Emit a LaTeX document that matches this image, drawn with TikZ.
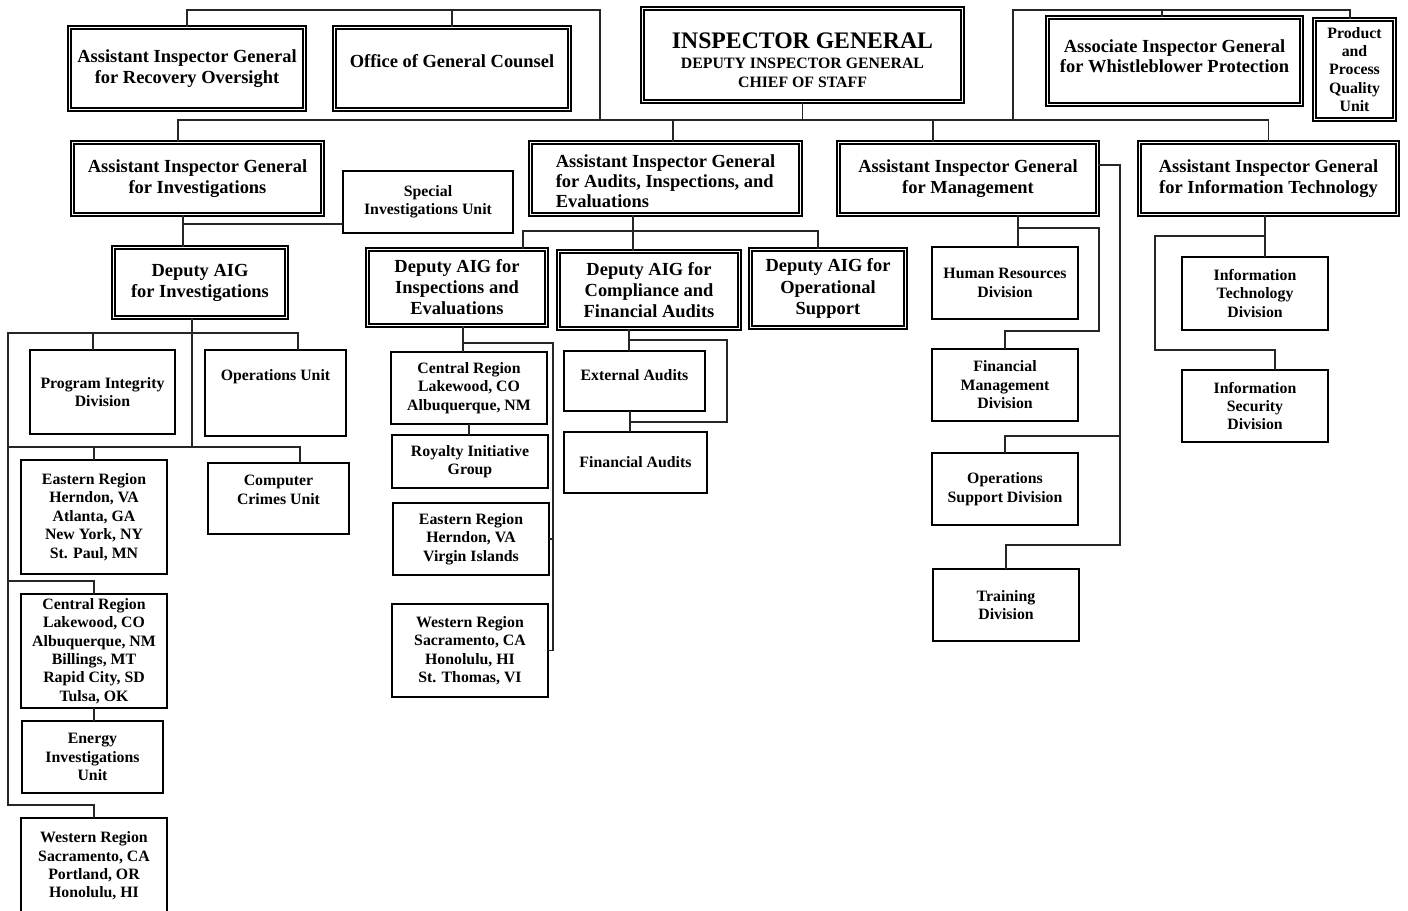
\documentclass[tikz,border=0pt]{standalone}
\usepackage{fontspec}
\setmainfont{Liberation Serif}
\usetikzlibrary{positioning}

\tikzset{
  chief/.style={draw, double, line width=1.1pt, double distance=1pt, align=center,
    font=\bfseries\fontsize{10.5}{12}\selectfont},
  unit/.style={draw, line width=0.7pt, align=center, inner sep=1pt,
    font=\bfseries\fontsize{9}{10.5}\selectfont},
  link/.style={line width=0.6pt, black!85},
}

\begin{document}
\begin{tikzpicture}[x=0.02cm, y=-0.02cm, line cap=rect]
  \useasboundingbox (0,0) rectangle (1408,910);

  \node[chief, minimum width=4.7cm, minimum height=1.64cm] (recov) at (187,68.5) {Assistant Inspector General\\for Recovery Oversight};
  \node[chief, minimum width=4.7cm, minimum height=1.64cm, text depth=8pt] (ogc) at (452,68.5) {Office of General Counsel};
  \node[chief, minimum width=6.4cm, minimum height=1.86cm, font=\bfseries\fontsize{9}{10.5}\selectfont] (ig) at (802.5,55)
    {{\fontsize{13.5}{14}\selectfont\rule{0pt}{15pt}INSPECTOR GENERAL}\\[1pt]DEPUTY INSPECTOR GENERAL\\CHIEF OF STAFF};
  \node[chief, minimum width=5.08cm, minimum height=1.74cm, text depth=6pt, font=\bfseries\fontsize{10.5}{11.5}\selectfont] (whistle) at (1174.5,61) {Associate Inspector General\\for Whistleblower Protection};
  \node[chief, minimum width=1.6cm, minimum height=2.0cm, inner sep=1pt, font=\bfseries\fontsize{9}{10.5}\selectfont] (ppqu) at (1354.5,69.5) {Product\\and\\Process\\Quality\\Unit};

  \node[chief, minimum width=5.0cm, minimum height=1.44cm] (aiginv) at (197.5,178.5) {Assistant Inspector General\\for Investigations};
  \node[chief, minimum width=5.4cm, minimum height=1.44cm, align=left, font=\bfseries\fontsize{10.5}{11.3}\selectfont] (aigaud) at (665.5,178.5) {\rule{0pt}{10pt}Assistant Inspector General\\for Audits, Inspections, and\\Evaluations};
  \node[chief, minimum width=5.18cm, minimum height=1.44cm] (aigmgmt) at (968,178.5) {Assistant Inspector General\\for Management};
  \node[chief, minimum width=5.16cm, minimum height=1.44cm] (aigit) at (1268.5,178.5) {Assistant Inspector General\\for Information Technology};
  \node[unit, minimum width=3.4cm, minimum height=1.24cm] (siu) at (428,202) {Special\\Investigations Unit};

  \node[chief, minimum width=3.46cm, minimum height=1.4cm] (depinv) at (200,282.5) {Deputy AIG\\for Investigations};
  \node[chief, minimum width=3.58cm, minimum height=1.52cm] (depie) at (457,287.5) {Deputy AIG for\\Inspections and\\Evaluations};
  \node[chief, minimum width=3.62cm, minimum height=1.54cm] (depcfa) at (649,290) {Deputy AIG for\\Compliance and\\Financial Audits};
  \node[chief, minimum width=3.1cm, minimum height=1.56cm] (depos) at (828,288.5) {Deputy AIG for\\Operational\\Support};

  \node[unit, minimum width=2.9cm, minimum height=1.68cm] (pid) at (102.5,392) {Program Integrity\\Division};
  \node[unit, minimum width=2.82cm, minimum height=1.72cm, text depth=21pt] (opsu) at (275.5,393) {Operations Unit};
  \node[unit, minimum width=2.92cm, minimum height=2.28cm] (eastinv) at (94,517) {Eastern Region\\Herndon, VA\\Atlanta, GA\\New York, NY\\St. Paul, MN};
  \node[unit, minimum width=2.82cm, minimum height=1.42cm, text depth=10pt] (ccu) at (278.5,498.5) {Computer\\Crimes Unit};
  \node[unit, minimum width=2.92cm, minimum height=2.28cm] (centinv) at (94,651) {Central Region\\Lakewood, CO\\Albuquerque, NM\\Billings, MT\\Rapid City, SD\\Tulsa, OK};
  \node[unit, minimum width=2.82cm, minimum height=1.44cm] (energy) at (92.5,757) {Energy\\Investigations\\Unit};
  \node[unit, minimum width=2.92cm, minimum height=1.92cm] (westinv) at (94,866) {Western Region\\Sacramento, CA\\Portland, OR\\Honolulu, HI};

  \node[unit, minimum width=3.12cm, minimum height=1.44cm] (centie) at (469,388) {Central Region\\Lakewood, CO\\Albuquerque, NM};
  \node[unit, minimum width=3.12cm, minimum height=1.06cm] (royalty) at (470,461.5) {Royalty Initiative\\Group};
  \node[unit, minimum width=3.12cm, minimum height=1.44cm] (eastie) at (471,539) {Eastern Region\\Herndon, VA\\Virgin Islands};
  \node[unit, minimum width=3.12cm, minimum height=1.86cm] (westie) at (470,650.5) {Western Region\\Sacramento, CA\\Honolulu, HI\\St. Thomas, VI};

  \node[unit, minimum width=2.82cm, minimum height=1.2cm, text depth=7pt] (ext) at (634.5,381) {External Audits};
  \node[unit, minimum width=2.86cm, minimum height=1.22cm] (fin) at (635.5,462.5) {Financial Audits};

  \node[unit, minimum width=2.92cm, minimum height=1.44cm] (hr) at (1005,283) {Human Resources\\Division};
  \node[unit, minimum width=2.92cm, minimum height=1.44cm] (fmd) at (1005,385) {Financial\\Management\\Division};
  \node[unit, minimum width=2.92cm, minimum height=1.44cm] (osd) at (1005,489) {Operations\\Support Division};
  \node[unit, minimum width=2.92cm, minimum height=1.44cm] (train) at (1006,605) {Training\\Division};

  \node[unit, minimum width=2.92cm, minimum height=1.46cm] (itd) at (1255,293.5) {Information\\Technology\\Division};
  \node[unit, minimum width=2.92cm, minimum height=1.44cm] (isd) at (1255,406) {Information\\Security\\Division};

  \coordinate (topL) at (600,10);
  \coordinate (topR) at (1013,10);
  \coordinate (dWb) at (1162,10);
  \coordinate (dPq) at (1350,10);
  \coordinate (bus) at (0,120);
  \draw[link] (recov.north) |- (topL) -- (topL |- bus);
  \draw[link] (ogc.north) -- (ogc.north |- topL);
  \draw[link] (ig.south) -- (ig.south |- bus);
  \draw[link] (dPq |- ppqu.north) -- (dPq) -- (topR) -- (topR |- bus);
  \draw[link] (dWb) -- (dWb |- whistle.north);

  \coordinate (dInv) at (178,120);
  \coordinate (dAud) at (673,120);
  \coordinate (dMgt) at (933,120);
  \draw[link] (dInv) -- (aigit.north |- bus) -- (aigit.north);
  \draw[link] (dInv) -- (dInv |- aiginv.north);
  \draw[link] (dAud) -- (dAud |- aigaud.north);
  \draw[link] (dMgt) -- (dMgt |- aigmgmt.north);

  \coordinate (jInv) at (183,224);
  \draw[link] (jInv |- aiginv.south) -- (jInv |- depinv.north);
  \draw[link] (jInv) -- (jInv -| siu.west);

  \coordinate (jDep) at (192,333);
  \coordinate (railT) at (8,333);
  \coordinate (railB) at (8,805);
  \coordinate (rowE) at (8,447);
  \coordinate (rowC) at (8,581);
  \coordinate (dPid) at (93,333);
  \coordinate (dOps) at (298,333);
  \coordinate (dCcu) at (300,447);
  \draw[link] (jDep |- depinv.south) -- (jDep |- rowE);
  \draw[link] (railB) -- (railT) -- (dOps) -- (dOps |- opsu.north);
  \draw[link] (dPid) -- (dPid |- pid.north);
  \draw[link] (rowE) -- (dCcu) -- (dCcu |- ccu.north);
  \draw[link] (eastinv.north |- rowE) -- (eastinv.north);
  \draw[link] (rowC) -| (centinv.north);
  \draw[link] (railB) -| (westinv.north);
  \draw[link] (centinv.south) -- (centinv.south |- energy.north);

  \coordinate (jAud) at (633,231);
  \coordinate (jAudL) at (523,231);
  \coordinate (jAudR) at (818,231);
  \draw[link] (jAud |- aigaud.south) -- (jAud);
  \draw[link] (jAudL |- depie.north) -- (jAudL) -- (jAudR) -- (jAudR |- depos.north);
  \draw[link] (jAud) -- (jAud |- depcfa.north);

  \coordinate (jIE) at (463,343);
  \coordinate (railIE) at (553,343);
  \draw[link] (jIE |- depie.south) -- (jIE |- centie.north);
  \draw[link] (jIE) -- (railIE) -- (railIE |- westie.east) -- (westie.east);
  \draw[link] (eastie.east) -- (eastie.east -| railIE);
  \draw[link] (centie.south) -- (centie.south |- royalty.north);

  \coordinate (jCF) at (629,340);
  \coordinate (railCF) at (727,340);
  \coordinate (jCF2) at (630,422);
  \draw[link] (jCF |- depcfa.south) -- (jCF |- ext.north);
  \draw[link] (jCF) -- (railCF) |- (jCF2);
  \draw[link] (jCF2 |- ext.south) -- (jCF2 |- fin.north);

  \coordinate (jM) at (1018,228);
  \coordinate (railM) at (1099,228);
  \coordinate (jM2) at (1005,331);
  \coordinate (railM2) at (1120,165);
  \coordinate (jOsd) at (1120,436);
  \coordinate (jTr) at (1120,545);
  \draw[link] (jM |- aigmgmt.south) -- (jM |- hr.north);
  \draw[link] (jM) -- (railM) |- (jM2) -- (fmd.north);
  \draw[link] (aigmgmt.east |- railM2) -- (railM2) -- (jTr) -| (train.north);
  \draw[link] (jOsd) -| (osd.north);

  \coordinate (jIT) at (1265,236);
  \coordinate (railIT) at (1155,236);
  \coordinate (jIT2) at (1275,350);
  \draw[link] (jIT |- aigit.south) -- (jIT |- itd.north);
  \draw[link] (jIT) -- (railIT) |- (jIT2) -- (jIT2 |- isd.north);
\end{tikzpicture}
\end{document}
